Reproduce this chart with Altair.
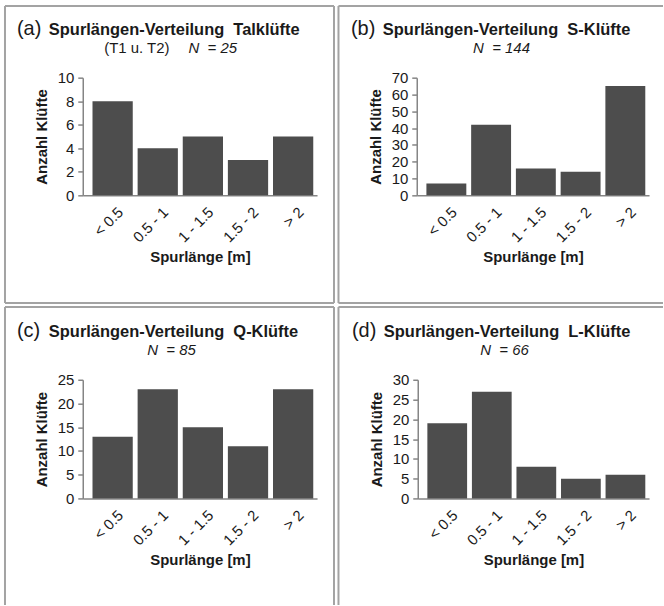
import altair as alt
import pandas as pd

# ---- data -------------------------------------------------------------
categories = ["< 0.5", "0.5 - 1", "1 - 1.5", "1.5 - 2", "> 2"]
counts_a = [8, 4, 5, 3, 5]
counts_b = [7, 42, 16, 14, 65]
counts_c = [13, 23, 15, 11, 23]
counts_d = [19, 27, 8, 5, 6]

letters = ["(a)", "(b)", "(c)", "(d)"]
titles = [
    "Spurlängen-Verteilung\u00a0 Talklüfte",
    "Spurlängen-Verteilung\u00a0 S-Klüfte",
    "Spurlängen-Verteilung\u00a0 Q-Klüfte",
    "Spurlängen-Verteilung\u00a0 L-Klüfte",
]
sub_plain = ["(T1 u. T2)", "", "", ""]
sub_italic = ["N\u00a0 = 25", "N\u00a0 = 144", "N\u00a0 = 85", "N\u00a0 = 66"]
y_max = [10, 70, 25, 30]
y_step = [2, 10, 5, 5]
x_title = "Spurlänge [m]"
y_title = "Anzahl Klüfte"

FONT = "Liberation Sans"
TXT = "#1a1a1a"
BORDER = "#a3a3a3"
BAR = "#4d4d4d"


def one():
    return alt.Data(values=[{}])


def panel(counts, idx, w, h, bbox, borders, sub_x):
    df = pd.DataFrame({"cat": categories, "n": counts})
    x0, x1, y0, y1 = bbox
    vals = list(range(0, y_max[idx] + 1, y_step[idx]))
    bars = alt.Chart(df).mark_bar(color=BAR).encode(
        x=alt.X(
            "cat:N",
            sort=categories,
            title=x_title,
            scale=alt.Scale(paddingInner=0.108, paddingOuter=0.15, align=0.72),
            axis=alt.Axis(
                labelAngle=-45,
                ticks=False,
                labelPadding=9,
                labelOffset=3,
                titlePadding=5,
            ),
        ),
        y=alt.Y(
            "n:Q",
            title=y_title,
            scale=alt.Scale(domain=[0, y_max[idx]], nice=False, zero=True),
            axis=alt.Axis(values=vals, grid=False, tickSize=5, labelPadding=4,
                          titlePadding=8),
        ),
    )
    layers = [bars]
    # invisible box that fixes the panel's bounds
    layers.append(
        alt.Chart(one()).mark_rect(fill="white", opacity=0, strokeWidth=0).encode(
            x=alt.value(x0), x2=alt.value(x1), y=alt.value(y0), y2=alt.value(y1)
        )
    )
    for (bx0, bx1, by0, by1) in borders:
        enc = dict(x=alt.value(bx0), y=alt.value(by0))
        if bx1 is not None:
            enc["x2"] = alt.value(bx1)
        if by1 is not None:
            enc["y2"] = alt.value(by1)
        layers.append(
            alt.Chart(one()).mark_rule(color=BORDER, strokeWidth=2).encode(**enc)
        )
    # title pieces
    layers.append(
        alt.Chart(one()).mark_text(
            text=letters[idx], font=FONT, fontSize=20, color=TXT,
            align="left", baseline="alphabetic"
        ).encode(x=alt.value(-66), y=alt.value(-43))
    )
    layers.append(
        alt.Chart(one()).mark_text(
            text=titles[idx], font=FONT, fontSize=16.5, fontWeight="bold", color=TXT,
            align="left", baseline="alphabetic"
        ).encode(x=alt.value(-34), y=alt.value(-43))
    )
    if sub_plain[idx]:
        layers.append(
            alt.Chart(one()).mark_text(
                text=sub_plain[idx], font=FONT, fontSize=15, color=TXT,
                align="right", baseline="alphabetic"
            ).encode(x=alt.value(sub_x - 19), y=alt.value(-25))
        )
        layers.append(
            alt.Chart(one()).mark_text(
                text=sub_italic[idx], font=FONT, fontSize=15, fontStyle="italic",
                color=TXT, align="left", baseline="alphabetic"
            ).encode(x=alt.value(sub_x), y=alt.value(-25))
        )
    else:
        layers.append(
            alt.Chart(one()).mark_text(
                text=sub_italic[idx], font=FONT, fontSize=15, fontStyle="italic",
                color=TXT, align="center", baseline="alphabetic"
            ).encode(x=alt.value(sub_x), y=alt.value(-25))
        )
    return alt.layer(*layers).properties(width=w, height=h)


pa = panel(counts_a, 0, 235, 118, (-83, 253.5, -77, 228),
           [(-78, 252, -72, None), (-78, 252, 226, None),
            (-78, None, -72, 226), (252, None, -72, 226)], 106)
pb = panel(counts_b, 1, 233, 118, (-80.5, 247, -77, 228),
           [(-78.5, 247, -72, None), (-78.5, 247, 226, None),
            (-78.5, None, -72, 226)], 85)
pc = panel(counts_c, 2, 235, 119, (-83, 253.5, -75, 226),
           [(-78, 252, -73, None), (-78, None, -73, 226),
            (252, None, -73, 226)], 89)
pd_ = panel(counts_d, 3, 232, 119, (-81.5, 246, -75, 226),
            [(-79.5, 246, -73, None), (-79.5, None, -73, 226)], 87)

chart = alt.vconcat(
    alt.hconcat(pa, pb, spacing=0),
    alt.hconcat(pc, pd_, spacing=0),
    spacing=0,
).properties(
    padding=0, background="white"
).configure_view(strokeWidth=0).configure_axis(
    domainColor="#858585",
    domainWidth=1.5,
    tickColor="#858585",
    tickWidth=1.5,
    labelFont=FONT,
    labelFontSize=15,
    labelColor=TXT,
    titleFont=FONT,
    titleFontSize=15,
    titleFontWeight="bold",
    titleColor=TXT,
)

chart.save("out.html", embed_options={"renderer": "svg", "actions": False})
